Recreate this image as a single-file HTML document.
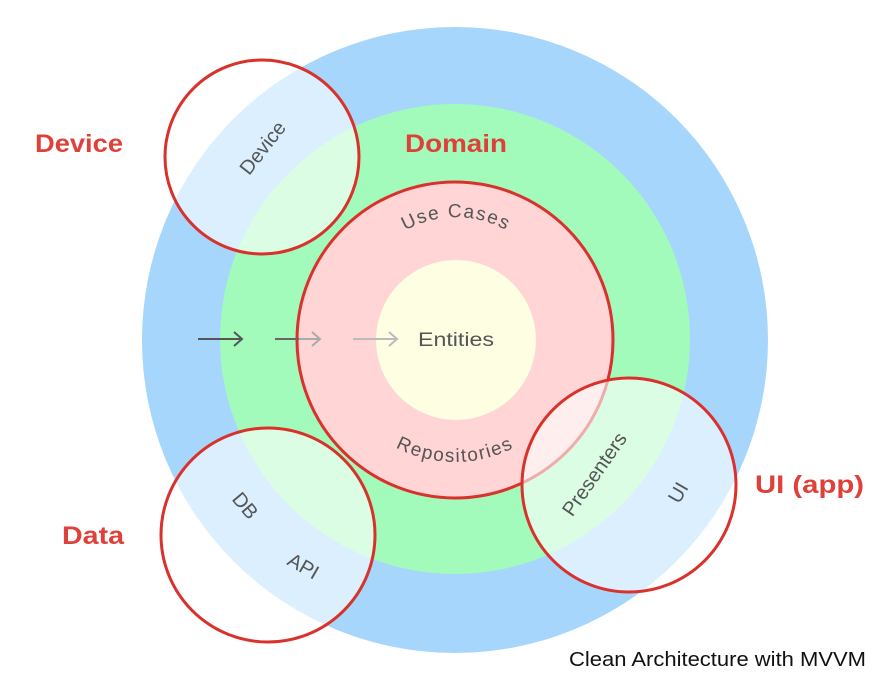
<!DOCTYPE html>
<html><head><meta charset="utf-8"><style>
html,body{margin:0;padding:0;background:#fff;width:880px;height:680px;overflow:hidden}
svg{display:block}
text{font-family:"Liberation Sans",sans-serif}
</style></head><body>
<svg width="880" height="680" viewBox="0 0 880 680" xmlns="http://www.w3.org/2000/svg">
<defs>
<path id="uc" d="M 355 300 A 103 103 0 0 1 557 300"/>
<path id="rp" d="M 365 425 A 128 128 0 0 0 545 425"/>
</defs>
<circle cx="455" cy="340" r="313" fill="#a6d6fc"/>
<circle cx="455" cy="339" r="235" fill="#a2fbbb"/>
<circle cx="455" cy="340" r="158" fill="#ffd5d5" stroke="#d9312b" stroke-width="3"/>
<circle cx="456" cy="340" r="80" fill="#fefee2"/>
<g fill="none" stroke-width="2">
<g stroke="#555"><line x1="198" y1="339" x2="242" y2="339"/><polyline points="234,332 242,339 234,346"/></g>
<line x1="275" y1="339" x2="299" y2="339" stroke="#666"/>
<g stroke="#aaa"><line x1="299" y1="339" x2="320" y2="339"/><polyline points="312,332 320,339 312,346"/></g>
<g stroke="#bbb"><line x1="353" y1="339" x2="397" y2="339"/><polyline points="389,332 397,339 389,346"/></g>
</g>
<text x="456" y="346" font-size="19" fill="#555" text-anchor="middle" textLength="76" lengthAdjust="spacingAndGlyphs">Entities</text>
<text font-size="19" fill="#555" letter-spacing="1.5"><textPath href="#uc" startOffset="50%" text-anchor="middle">Use Cases</textPath></text>
<text font-size="19" fill="#555" letter-spacing="1.5"><textPath href="#rp" startOffset="50%" text-anchor="middle">Repositories</textPath></text>
<g fill="rgba(255,255,255,0.6)" stroke="#d9312b" stroke-width="3">
<circle cx="262" cy="157" r="97"/>
<circle cx="268" cy="535" r="107"/>
<circle cx="629" cy="485" r="107"/>
</g>
<text font-size="20" fill="#555" transform="translate(268,152) rotate(-52)" text-anchor="middle">Device</text>
<text font-size="20" fill="#555" transform="translate(240,510) rotate(50)" text-anchor="middle">DB</text>
<text font-size="20" fill="#555" transform="translate(300,572) rotate(30)" text-anchor="middle">API</text>
<text font-size="20" fill="#555" transform="translate(600,478) rotate(-55)" text-anchor="middle">Presenters</text>
<text font-size="20" fill="#555" transform="translate(684,496) rotate(-60)" text-anchor="middle">UI</text>
<g font-size="25" font-weight="bold" fill="#e0403a">
<text x="35" y="152" textLength="88" lengthAdjust="spacingAndGlyphs">Device</text>
<text x="405" y="152" textLength="102" lengthAdjust="spacingAndGlyphs">Domain</text>
<text x="62" y="544" textLength="62" lengthAdjust="spacingAndGlyphs">Data</text>
<text x="755" y="493" textLength="109" lengthAdjust="spacingAndGlyphs">UI (app)</text>
</g>
<text x="569" y="666" font-size="20" fill="#111" font-family="Liberation Serif, serif" textLength="297" lengthAdjust="spacingAndGlyphs">Clean Architecture with MVVM</text>
</svg>
</body></html>
